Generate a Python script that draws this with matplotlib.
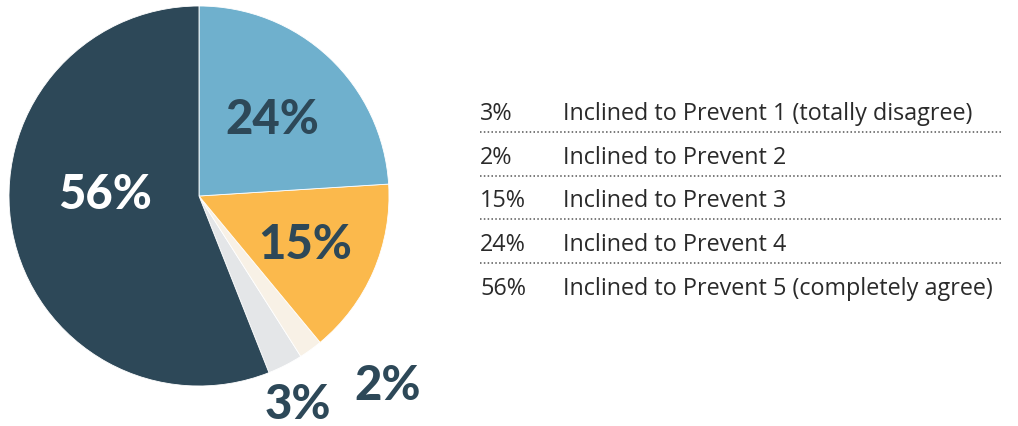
import matplotlib.pyplot as plt

# legend order
pcts = [3, 2, 15, 24, 56]
labels = ["Inclined to Prevent 1 (totally disagree)",
          "Inclined to Prevent 2",
          "Inclined to Prevent 3",
          "Inclined to Prevent 4",
          "Inclined to Prevent 5 (completely agree)"]
colors = ["#e4e6e8", "#f8f1e6", "#fbb94c", "#6fb0cd", "#2d4858"]

H = 427
fig = plt.figure(figsize=(10.18, 4.27), dpi=100)
ax = fig.add_axes([0, 0, 1, 1])

# pie, counterclockwise; largest slice ends at 12 o'clock
start = 90 + 360 * pcts[-1] / 100
ax.pie(pcts, colors=colors, startangle=start, counterclock=True,
       center=(199, H - 197), radius=190, frame=True,
       wedgeprops=dict(linewidth=0.6, edgecolor="white"))
ax.set_xlim(0, 1018)
ax.set_ylim(0, H)
ax.set_aspect("equal")
ax.axis("off")

big = dict(family="Lato", fontweight="black", fontsize=34, ha="center", va="center")
dark = "#2d4858"
ax.text(105, H - 195, f"{pcts[4]}%", color="white", **big)
ax.text(272, H - 120, f"{pcts[3]}%", color=dark, **big)
ax.text(305, H - 245, f"{pcts[2]}%", color=dark, **big)
ax.text(298, H - 405, f"{pcts[0]}%", color=dark, **big)
ax.text(388, H - 386, f"{pcts[1]}%", color=dark, **big)

# legend table
baselines = [120, 164, 207, 251, 295]
for i, (p, lab) in enumerate(zip(pcts, labels)):
    y = H - baselines[i]
    ax.text(480, y, f"{p}%", fontsize=16.8, family="Open Sans", color="#2a2a2a", va="baseline")
    ax.text(563, y, lab, fontsize=16.8, family="Open Sans", color="#2a2a2a", va="baseline")
    if i < len(pcts) - 1:
        ax.plot([480, 1003], [y - 13, y - 13], color="#555555", lw=1.1,
                linestyle=(0, (1, 1.5)))

fig.savefig("out.png", dpi=100)
